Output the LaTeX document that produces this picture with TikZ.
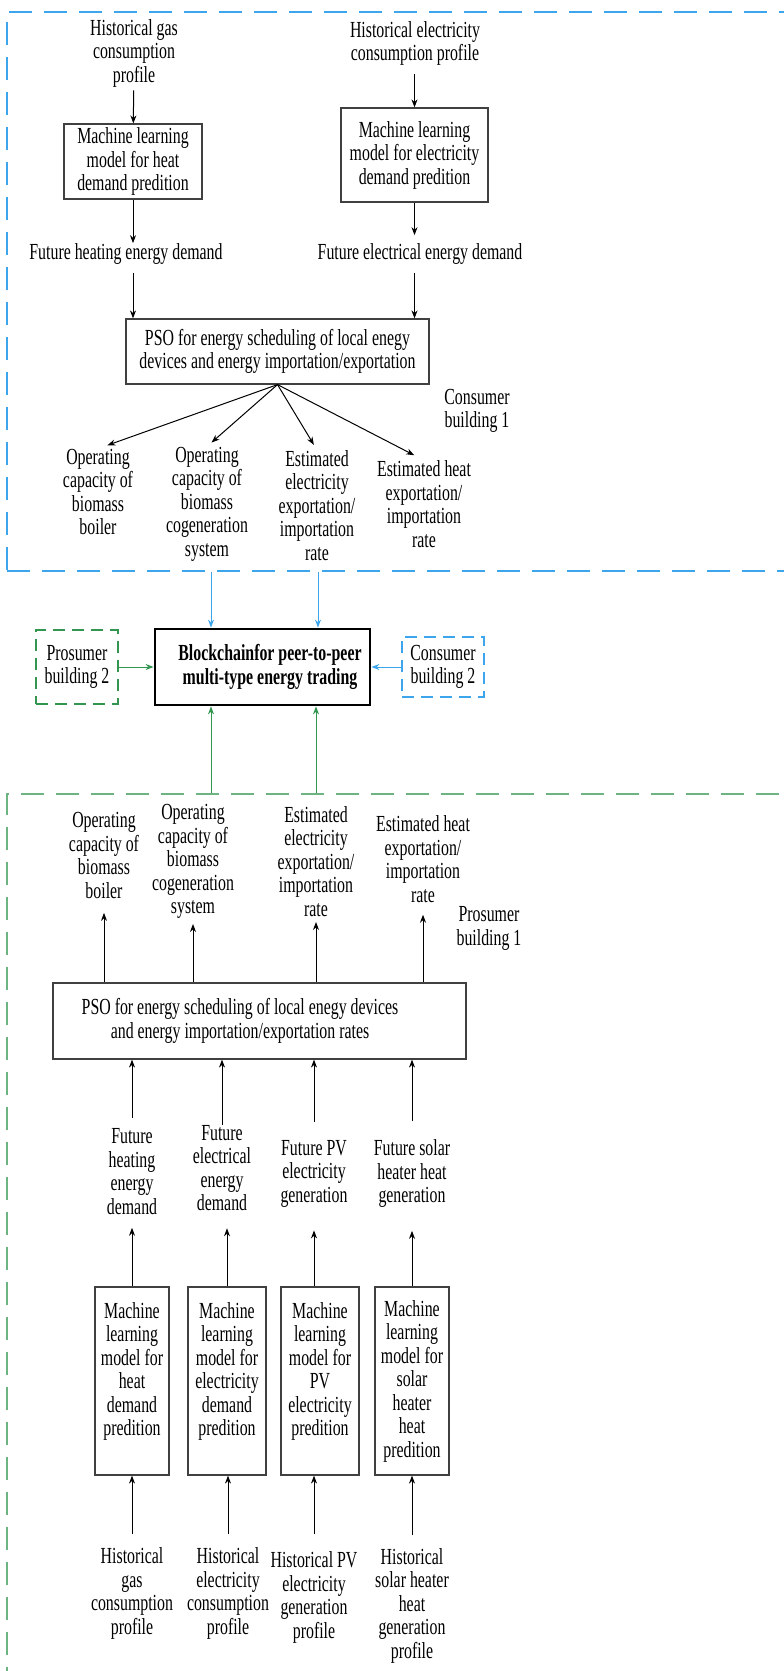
\documentclass[tikz,border=0pt]{standalone}
\usepackage{fontspec}
\setmainfont{Liberation Serif}[FakeStretch=0.69]
\usetikzlibrary{arrows.meta}
\definecolor{bcblue}{RGB}{60,165,235}
\definecolor{bcgreen}{RGB}{50,150,80}
\definecolor{bcgreenl}{RGB}{110,180,130}

\begin{document}
\begin{tikzpicture}
[every node/.style={inner sep=0pt, align=center, font=\fontsize{11.5}{11.75}\selectfont},
 mlbox/.style={draw=black!75, line width=0.6pt},
 chainbox/.style={draw=black, line width=1.4pt, font=\fontsize{11.5}{11.75}\selectfont\bfseries},
 dbox/.style={line width=0.75pt, dash pattern=on 6pt off 3.5pt},
 frame/.style={line width=0.75pt, dash pattern=on 11.5pt off 6pt},
 lnk/.style={line width=0.5pt, ->, >={Stealth[length=4pt,width=3pt]}}]
\useasboundingbox (0pt, 0pt) rectangle (391.5pt, -835.5pt);
% consumer building 1
\node (1) at (67pt, -26.5pt) {Historical gas\\consumption\\profile};
\node (2) [mlbox, minimum width=69pt, minimum height=37.5pt] at (66.5pt, -80.75pt) {Machine learning\\model for heat\\demand predition};
\node (3) at (63pt, -127pt) {Future heating energy demand};
\node (4) at (207.5pt, -21.75pt) {Historical electricity\\consumption profile};
\node (5) [mlbox, minimum width=73.5pt, minimum height=47pt] at (207.25pt, -77.5pt) {Machine learning\\model for electricity\\demand predition};
\node (6) at (210pt, -127pt) {Future electrical energy demand};
\node (7) [mlbox, minimum width=151.5pt, minimum height=32.5pt] at (138.75pt, -175.75pt) {PSO for energy scheduling of local enegy\\devices and energy importation/exportation};
\node (8) at (49pt, -246pt) {Operating\\capacity of\\biomass\\boiler};
\node (9) at (103.5pt, -252pt) {Operating\\capacity of\\biomass\\cogeneration\\system};
\node (10) at (158.5pt, -252.75pt) {Estimated\\electricity\\exportation/\\importation\\rate};
\node (11) at (212pt, -252pt) {Estimated heat\\exportation/\\importation\\rate};
\node (12) at (238.5pt, -205.5pt) {Consumer\\building 1};
\node (13) [frame, draw=bcblue, minimum width=391.5pt, minimum height=279.5pt] at (199.25pt, -145.75pt) {};
% trading
\node (14) [chainbox, minimum width=107.5pt, minimum height=38pt] at (131.25pt, -333.5pt) {\hspace*{7.5pt}Blockchainfor peer-to-peer\\\hspace*{7.5pt}multi-type energy trading};
\node (15) [dbox, draw=bcgreen, minimum width=41pt, minimum height=37pt] at (38.5pt, -333.5pt) {Prosumer\\building 2};
\node (16) [dbox, draw=bcblue, minimum width=41pt, minimum height=30pt] at (221.5pt, -333.5pt) {Consumer\\building 2};
\coordinate (c1) at (105.5pt, 0pt);
\coordinate (c2) at (159pt, 0pt);
\coordinate (c3) at (158pt, 0pt);
% prosumer building 1
\node (17) [frame, draw=bcgreenl, minimum width=391.5pt, minimum height=443pt] at (199.25pt, -618.5pt) {};
\node (18) at (52pt, -427.75pt) {Operating\\capacity of\\biomass\\boiler};
\node (19) at (96.5pt, -430.75pt) {Operating\\capacity of\\biomass\\cogeneration\\system};
\node (20) at (158pt, -430.75pt) {Estimated\\electricity\\exportation/\\importation\\rate};
\node (21) at (211.5pt, -429.5pt) {Estimated heat\\exportation/\\importation\\rate};
\node (22) at (244.5pt, -464.25pt) {Prosumer\\building 1};
\node (23) [mlbox, minimum width=206.5pt, minimum height=38pt] at (129.75pt, -510.5pt) {PSO for energy scheduling of local enegy devices\hspace*{19.5pt}\\and energy importation/exportation rates\hspace*{19.5pt}};
\node (24) at (66pt, -585.75pt) {Future\\heating\\energy\\demand};
\node (25) at (111pt, -584pt) {Future\\electrical\\energy\\demand};
\node (26) at (157pt, -586.75pt) {Future PV\\electricity\\generation};
\node (27) at (206pt, -586.75pt) {Future solar\\heater heat\\generation};
\node (28) [mlbox, minimum width=37pt, minimum height=94pt] at (66pt, -690.5pt) {Machine\\learning\\model for\\heat\\demand\\predition\\\mbox{}};
\node (29) [mlbox, minimum width=39pt, minimum height=94pt] at (113.5pt, -690.5pt) {Machine\\learning\\model for\\electricity\\demand\\predition\\\mbox{}};
\node (30) [mlbox, minimum width=39pt, minimum height=94pt] at (160pt, -690.5pt) {Machine\\learning\\model for\\PV\\electricity\\predition\\\mbox{}};
\node (31) [mlbox, minimum width=37pt, minimum height=94pt] at (206pt, -690.5pt) {Machine\\learning\\model for\\solar\\heater\\heat\\predition};
\node (32) at (66pt, -796.75pt) {Historical\\gas\\consumption\\profile};
\node (33) at (114pt, -796.75pt) {Historical\\electricity\\consumption\\profile};
\node (34) at (157pt, -798.75pt) {Historical PV\\electricity\\generation\\profile};
\node (35) at (206pt, -802.75pt) {Historical\\solar heater\\heat\\generation\\profile};
% consumer links
\draw [lnk, shorten <=1.5pt] (1) to (2);
\draw [lnk] (2) to (2 |- 3.north);
\draw [lnk, shorten <=4pt] (2 |- 3.south) to (2 |- 7.north);
\draw [lnk, shorten <=4pt] (5 |- 4.south) to (5);
\draw [lnk, shorten >=4pt] (5) to (5 |- 6.north);
\draw [lnk, shorten <=4pt] (5 |- 6.south) to (5 |- 7.north);
\draw [lnk, shorten >=5pt] (7.south) to (8.north);
\draw [lnk, shorten >=3pt] (7.south) to (9.north);
\draw [lnk, shorten >=3pt] (7.south) to (10.north);
\draw [lnk, shorten >=5.5pt] (7.south) to (11.north);
\draw [lnk, color=bcblue] (c1 |- 13.south) to (c1 |- 14.north);
\draw [lnk, color=bcblue] (c2 |- 13.south) to (c2 |- 14.north);
\draw [lnk, color=bcgreen] (15) to (14);
\draw [lnk, color=bcblue] (16) to (14);
\draw [lnk, color=bcgreen] (c1 |- 17.north) to (c1 |- 14.south);
\draw [lnk, color=bcgreen] (c3 |- 17.north) to (c3 |- 14.south);
% prosumer links
\draw [lnk, shorten >=7pt] (18 |- 23.north) to (18);
\draw [lnk, shorten >=2.5pt] (19 |- 23.north) to (19);
\draw [lnk, shorten >=2.5pt] (20 |- 23.north) to (20);
\draw [lnk, shorten >=6pt] (21 |- 23.north) to (21);
\draw [lnk, shorten <=5pt] (24) to (24 |- 23.south);
\draw [lnk] (25) to (25 |- 23.south);
\draw [lnk, shorten <=9pt] (26) to (26 |- 23.south);
\draw [lnk, shorten <=9pt] (27) to (27 |- 23.south);
\draw [lnk, shorten >=6.5pt] (28) to (28 |- 24.south);
\draw [lnk, shorten >=8.5pt] (29) to (29 |- 25.south);
\draw [lnk, shorten >=11.5pt] (26 |- 30.north) to (26);
\draw [lnk, shorten >=11.5pt] (31) to (31 |- 27.south);
\draw [lnk, shorten <=6.5pt] (32) to (28);
\draw [lnk, shorten <=6.5pt] (33) to (33 |- 29.south);
\draw [lnk, shorten <=8.5pt] (34) to (34 |- 30.south);
\draw [lnk, shorten <=6.5pt] (35) to (31);
\end{tikzpicture}
\end{document}
